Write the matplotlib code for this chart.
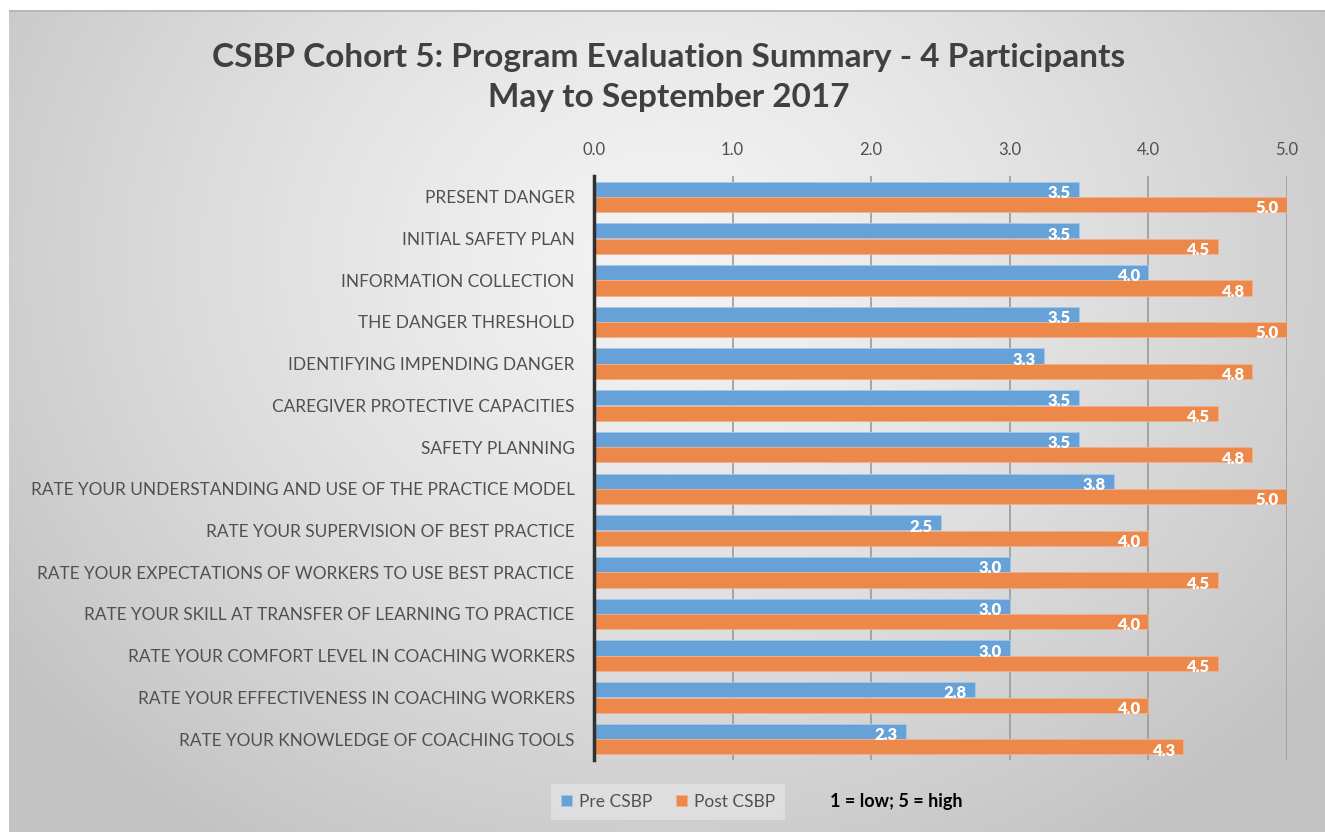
import math
import matplotlib
matplotlib.use('Agg')
import matplotlib.pyplot as plt
import numpy as np

plt.rcParams['font.family'] = ['Lato', 'DejaVu Sans']

# datos
categorias = ['PRESENT DANGER', 'INITIAL SAFETY PLAN', 'INFORMATION COLLECTION',
              'THE DANGER THRESHOLD', 'IDENTIFYING IMPENDING DANGER',
              'CAREGIVER PROTECTIVE CAPACITIES', 'SAFETY PLANNING',
              'RATE YOUR UNDERSTANDING AND USE OF THE PRACTICE MODEL',
              'RATE YOUR SUPERVISION OF BEST PRACTICE',
              'RATE YOUR EXPECTATIONS OF WORKERS TO USE BEST PRACTICE',
              'RATE YOUR SKILL AT TRANSFER OF LEARNING TO PRACTICE',
              'RATE YOUR COMFORT LEVEL IN COACHING WORKERS',
              'RATE YOUR EFFECTIVENESS IN COACHING WORKERS',
              'RATE YOUR KNOWLEDGE OF COACHING TOOLS']
pre  = [3.5, 3.5, 4.0, 3.5, 3.25, 3.5, 3.5, 3.75, 2.5, 3.0, 3.0, 3.0, 2.75, 2.25]
post = [5.0, 4.5, 4.75, 5.0, 4.75, 4.5, 4.75, 5.0, 4.0, 4.5, 4.0, 4.5, 4.0, 4.25]
xticks = [0, 1, 2, 3, 4, 5]

c_pre  = '#66a1d8'
c_post = '#ec884a'
c_txt  = '#505050'

def etiqueta(v):
    # redondeo tipo Excel (mitad hacia arriba)
    return '%.1f' % (math.floor(v * 10 + 0.5) / 10)

fig = plt.figure(figsize=(13.25, 8.32), dpi=100)
fig.patch.set_facecolor('white')

# fondo con degradado radial
bg = fig.add_axes([9/1325, 0, 1 - 9/1325, 1 - 10/832])
bg.set_axis_off()
h, w = 400, 660
yy, xx = np.mgrid[0:h, 0:w]
d = np.sqrt(((xx - 0.50*w) / (0.62*w))**2 + ((yy - 0.30*h) / (0.85*h))**2)
d = np.clip(d, 0, 1)
g = 0.955 - 0.19 * d**1.3
bg.imshow(np.dstack([g, g, g]), aspect='auto', extent=[0, 1, 0, 1], interpolation='bicubic')
bg.set_xlim(0, 1); bg.set_ylim(0, 1)
bg.plot([0, 1], [0.999, 0.999], color='#b8b8b8', lw=1.5)

ax = fig.add_axes([594/1325, 1 - 760/832, (1287 - 594)/1325, (760 - 176)/832])
ax.patch.set_alpha(0)

y = np.arange(len(categorias))
hb = 0.36
ax.barh(y - 0.185, pre, height=hb, color=c_pre, edgecolor='#a9c8e6', linewidth=0.6, label='Pre CSBP', zorder=3)
ax.barh(y + 0.185, post, height=hb, color=c_post, edgecolor='#f2b08a', linewidth=0.6, label='Post CSBP', zorder=3)

for i in range(len(categorias)):
    ax.text(pre[i] - 0.06, y[i] - 0.185 + 0.09, etiqueta(pre[i]), ha='right', va='center',
            color='white', fontsize=12, fontweight='heavy', zorder=4)
    ax.text(post[i] - 0.06, y[i] + 0.185 + 0.09, etiqueta(post[i]), ha='right', va='center',
            color='white', fontsize=12, fontweight='heavy', zorder=4)

ax.set_xlim(0, 5)
ax.set_ylim(13.5, -0.5)
ax.set_xticks(xticks)
ax.set_xticklabels(['%.1f' % t for t in xticks])
ax.xaxis.tick_top()
ax.tick_params(axis='x', length=0, pad=13, labelsize=12, labelcolor=c_txt)
ax.set_yticks(y)
ax.set_yticklabels(categorias)
ax.tick_params(axis='y', length=0, pad=14, labelsize=12.4, labelcolor=c_txt)

for t in xticks[1:]:
    ax.axvline(t, color='#9a9a9a', lw=1.2, zorder=1)
for s in ['top', 'right', 'bottom']:
    ax.spines[s].set_visible(False)
ax.spines['left'].set_color('#303030')
ax.spines['left'].set_linewidth(2.5)
ax.spines['left'].set_zorder(5)

fig.text(669/1325, 1 - 57/832, 'CSBP Cohort 5: Program Evaluation Summary - 4 Participants',
         ha='center', va='center', fontsize=24, fontweight='bold', color='#404040')
fig.text(669/1325, 1 - 98/832, 'May to September 2017',
         ha='center', va='center', fontsize=24, fontweight='bold', color='#404040')

leg = fig.legend(loc='center', bbox_to_anchor=(668/1325, 1 - 802/832), ncol=2, frameon=True,
                 fontsize=12.5, handlelength=0.6, handleheight=0.6, handletextpad=0.4,
                 columnspacing=1.4, borderpad=0.6, fancybox=False)
leg.get_frame().set_facecolor('#e2e2e2')
leg.get_frame().set_edgecolor('none')
for t in leg.get_texts():
    t.set_color(c_txt)
fig.text(830/1325, 1 - 802/832, '1 = low; 5 = high', ha='left', va='center',
         fontsize=13, fontweight='bold', color='black')

fig.savefig('out.png', dpi=100)
